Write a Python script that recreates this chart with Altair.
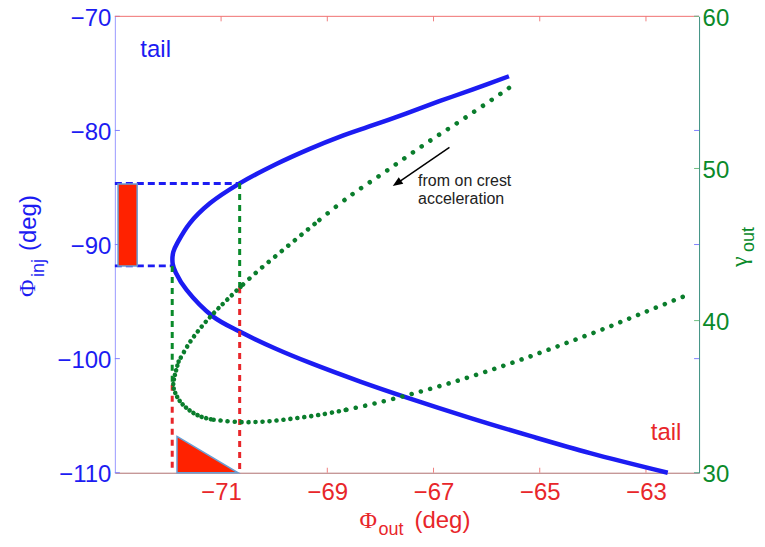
import altair as alt
import pandas as pd

# ---------------- data ----------------
# blue curve: Phi_inj (left axis) vs Phi_out
blue_phi_out = [-65.58, -66.27, -66.89, -67.52, -68.14, -68.77, -69.33, -69.96, -70.65,
                -71.21, -71.59, -71.81, -71.90, -71.91, -71.85, -71.65, -71.15, -70.65,
                -69.99, -69.31, -68.38, -67.47, -66.30, -65.15, -64.05, -62.59]
blue_phi_inj = [-75.25, -76.42, -77.44, -78.52, -79.54, -80.56, -81.61, -82.94, -84.64,
                -86.39, -88.14, -89.75, -90.66, -91.71, -92.49, -93.98, -96.32, -97.63,
                -99.09, -100.40, -102.01, -103.46, -105.21, -106.82, -108.28, -110.00]

# green dotted curve: gamma_out (right axis) vs Phi_out
green_phi_out = [-65.58, -66.38, -67.17, -67.91, -68.61, -69.24, -69.82, -70.35, -70.63,
                 -71.05, -71.34, -71.58, -71.80, -71.90, -71.86, -71.77, -71.61, -71.39,
                 -71.14, -70.65, -70.15, -69.65, -69.14, -68.64, -68.11, -67.47, -66.78,
                 -66.07, -65.33, -64.58, -63.80, -63.01, -62.19]
green_gamma = [55.29, 53.39, 51.58, 49.78, 48.10, 46.35, 44.68, 43.13, 42.23,
               40.81, 39.71, 38.62, 37.31, 35.78, 35.23, 34.68, 34.14, 33.70,
               33.48, 33.33, 33.37, 33.56, 33.81, 34.14, 34.55, 35.12, 35.80,
               36.58, 37.46, 38.42, 39.45, 40.57, 41.73]

# dashed guide lines
blue_guide_y = [-84.64, -91.87]
blue_guide_x1 = [-73.0, -73.0]
blue_guide_x2 = [-70.65, -71.92]
green_guide_x = [-70.65, -71.92]
green_guide_top = [49.04, 43.59]
green_guide_bot = [42.20, 35.78]
red_guide_x = [-70.65, -71.92]
red_guide_top = [42.20, 35.78]
red_guide_bot = [30.0, 30.0]

# red shapes
rect_x = [-72.94, -72.58]
rect_y = [-84.70, -91.88]
tri_x = [-71.83, -70.68]
tri_top = [-106.82, -110.0]
tri_bot = [-110.0, -110.0]

# annotation
ann_lines = ["from on crest", "acceleration"]
ann_x = [-67.29, -67.29]
ann_y = [-84.42, -86.04]
arrow_x = [-66.70, -67.69]
arrow_y = [-81.49, -84.63]

tail_text = ["tail", "tail"]
tail_x = [-72.52, -62.91]
tail_y = [-72.98, -106.50]

x_ticks = [-71, -69, -67, -65, -63]
yl_ticks = [-110, -100, -90, -80, -70]
yr_ticks = [30, 40, 50, 60]

# ---------------- styling ----------------
W, H = 585, 457
FONT = "Liberation Sans"
SERIF = "Liberation Serif"
BLUE = "#1c1cf2"
GREEN = "#0a7d2c"
GREEN_LBL = "#0a8a2a"
RED = "#e8262a"
SHAPE_RED = "#ff2200"
SHAPE_EDGE = "#6a9fd4"

xs = alt.Scale(domain=[-73, -62], nice=False, zero=False)
ys_l = alt.Scale(domain=[-110, -70], nice=False, zero=False)
ys_r = alt.Scale(domain=[30, 60], nice=False, zero=False)

x_axis = alt.Axis(values=x_ticks, format="d", title=None, grid=False, ticks=False,
                  labelFont=FONT, labelFontSize=24, labelColor=RED, labelPadding=8,
                  domainColor="#b07070", domainWidth=1, labelFlush=False, labelOverlap=False)
yl_axis = alt.Axis(values=yl_ticks, format="d", title=None, grid=False, ticks=False,
                   orient="left", labelFont=FONT, labelFontSize=24, labelColor=BLUE,
                   labelPadding=4, labelOffset=2, domainColor="#9a9aff", domainWidth=1,
                   labelFlush=False, labelOverlap=False)
yr_axis = alt.Axis(values=yr_ticks, format="d", title=None, grid=False, ticks=False,
                   orient="right", labelFont=FONT, labelFontSize=24, labelColor=GREEN_LBL,
                   labelPadding=3, labelOffset=2, domainColor="#3a8f80", domainWidth=1,
                   labelFlush=False, labelOverlap=False)


def X(f):
    return alt.X(f, type="quantitative", scale=xs, axis=x_axis)


def YL(f):
    return alt.Y(f, type="quantitative", scale=ys_l, axis=yl_axis)


def YR(f):
    return alt.Y(f, type="quantitative", scale=ys_r, axis=yr_axis)


ONE = alt.Data(values=[{}])


def ptext(txt, x, y, size, color, font, angle=0):
    return alt.Chart(ONE).mark_text(text=txt, fontSize=size, font=font, color=color,
                                    angle=angle, align="left", baseline="alphabetic"
                                    ).encode(x=alt.value(x), y=alt.value(y))


# ---------------- left (Phi_inj) layer ----------------
blue_df = pd.DataFrame({"o": range(len(blue_phi_out)), "x": blue_phi_out, "y": blue_phi_inj})
bg_df = pd.DataFrame({"y": blue_guide_y, "x1": blue_guide_x1, "x2": blue_guide_x2})
rect_df = pd.DataFrame({"x1": [rect_x[0]], "x2": [rect_x[1]], "y1": [rect_y[0]], "y2": [rect_y[1]]})
tri_df = pd.DataFrame({"x": tri_x, "y": tri_top, "y2": tri_bot})
ann_df = pd.DataFrame({"t": ann_lines, "x": ann_x, "y": ann_y})
arr_df = pd.DataFrame({"o": [0, 1], "x": arrow_x, "y": arrow_y})
tail_df = pd.DataFrame({"t": tail_text, "x": tail_x, "y": tail_y, "c": [BLUE, RED]})
xt_df = pd.DataFrame({"v": x_ticks})
ylt_df = pd.DataFrame({"v": yl_ticks})

blue_guides = alt.Chart(bg_df).mark_rule(color=BLUE, strokeWidth=3, strokeDash=[7, 4]).encode(
    x=X("x1"), x2="x2", y=YL("y"))

blue_line = alt.Chart(blue_df).mark_line(color=BLUE, strokeWidth=4.5, interpolate="catmull-rom").encode(
    x=X("x"), y=YL("y"), order="o:Q")

rect_shadow = alt.Chart(rect_df).mark_rect(color="#888888", opacity=0.35, xOffset=2, yOffset=2).encode(
    x=X("x1"), x2="x2", y=YL("y1"), y2="y2")
rect = alt.Chart(rect_df).mark_rect(color=SHAPE_RED, stroke=SHAPE_EDGE, strokeWidth=1.5).encode(
    x=X("x1"), x2="x2", y=YL("y1"), y2="y2")
tri_shadow = alt.Chart(tri_df).mark_area(color="#888888", opacity=0.35, xOffset=2, yOffset=1).encode(
    x=X("x"), y=YL("y"), y2="y2")
tri = alt.Chart(tri_df).mark_area(color=SHAPE_RED, stroke=SHAPE_EDGE, strokeWidth=1.5).encode(
    x=X("x"), y=YL("y"), y2="y2")

ann = alt.Chart(ann_df).mark_text(font=FONT, fontSize=16, color="#222222", align="left",
                                  baseline="middle").encode(x=X("x"), y=YL("y"), text="t:N")
arrow_line = alt.Chart(arr_df).mark_line(color="black", strokeWidth=1.5).encode(
    x=X("x"), y=YL("y"), order="o:Q")
arrow_head = alt.Chart(arr_df.iloc[[1]]).mark_point(
    shape="M0,-1L0.8,1L-0.8,1Z", size=100, filled=True, color="black", opacity=1,
    angle=235.6).encode(x=X("x"), y=YL("y"))

tails = alt.Chart(tail_df).mark_text(font=FONT, fontSize=24, align="left", baseline="middle").encode(
    x=X("x"), y=YL("y"), text="t:N", color=alt.Color("c:N", scale=None))

xt_bottom = alt.Chart(xt_df).mark_rule(color="#f08080", strokeWidth=1).encode(
    x=X("v"), y=alt.value(H), y2=alt.value(H - 5))
xt_top = alt.Chart(xt_df).mark_rule(color="#f08080", strokeWidth=1).encode(
    x=X("v"), y=alt.value(0), y2=alt.value(5))
ylt_left = alt.Chart(ylt_df).mark_rule(color="#8080ff", strokeWidth=1).encode(
    y=YL("v"), x=alt.value(0), x2=alt.value(5))
ylt_right = alt.Chart(ylt_df).mark_rule(color="#8080ff", strokeWidth=1).encode(
    y=YL("v"), x=alt.value(W - 5), x2=alt.value(W))
top_border = alt.Chart(ONE).mark_rule(color="#f07070", strokeWidth=1).encode(
    x=alt.value(0), x2=alt.value(W), y=alt.value(0))

# axis titles with subscripts (pixel positions relative to the plot area)
left_title = [
    ptext("Φ", -80, 281, 24, BLUE, SERIF, 270),
    ptext("inj", -71, 261, 18, BLUE, FONT, 270),
    ptext("(deg)", -79, 235, 24, BLUE, FONT, 270),
]
bottom_title = [
    ptext("Φ", 245, 512, 24, RED, SERIF),
    ptext("out", 264, 519, 18, RED, FONT),
    ptext("(deg)", 300, 512, 24, RED, FONT),
]
right_title = [
    ptext("γ", 633, 251, 24, GREEN_LBL, SERIF, 270),
    ptext("out", 640, 236, 18, GREEN_LBL, FONT, 270),
]

left = alt.layer(blue_guides, xt_bottom, xt_top, ylt_left, ylt_right, top_border,
                 blue_line, rect_shadow, rect, tri_shadow, tri, ann, arrow_line, arrow_head,
                 tails, *left_title, *bottom_title)

# ---------------- right (gamma_out) layer ----------------
gg_df = pd.DataFrame({"x": green_guide_x, "y1": green_guide_top, "y2": green_guide_bot})
rg_df = pd.DataFrame({"x": red_guide_x, "y1": red_guide_top, "y2": red_guide_bot})
yrt_df = pd.DataFrame({"v": yr_ticks})

green_guides = alt.Chart(gg_df).mark_rule(color="#0a8a2a", strokeWidth=3, strokeDash=[6, 5]).encode(
    x=X("x"), y=YR("y1"), y2="y2")
red_guides = alt.Chart(rg_df).mark_rule(color=RED, strokeWidth=3, strokeDash=[6, 5]).encode(
    x=X("x"), y=YR("y1"), y2="y2")
yrt = alt.Chart(yrt_df).mark_rule(color="#70c080", strokeWidth=1).encode(
    y=YR("v"), x=alt.value(W - 5), x2=alt.value(W))

segments = [(0, 5, 10.5), (5, 8, 8.5), (8, 12, 6.2), (12, 18, 4.6), (18, 23, 7.0), (23, 32, 9.6)]
green_layers = []
for a, b, gap in segments:
    seg = pd.DataFrame({"o": list(range(a, b + 1)),
                        "x": green_phi_out[a:b + 1],
                        "y": green_gamma[a:b + 1]})
    green_layers.append(
        alt.Chart(seg).mark_line(color=GREEN, strokeWidth=4.6, strokeCap="round",
                                 strokeDash=[0.01, gap], interpolate="catmull-rom").encode(
            x=X("x"), y=YR("y"), order="o:Q"))

right = alt.layer(green_guides, red_guides, yrt, *green_layers, *right_title)

chart = alt.layer(left, right).resolve_scale(y="independent").properties(
    width=W, height=H,
    autosize=alt.AutoSizeParams(type="none"),
    padding={"left": 107, "top": 8, "right": 58, "bottom": 66},
).configure_view(stroke=None)

chart.save("out.html", embed_options={"renderer": "svg", "actions": False})
